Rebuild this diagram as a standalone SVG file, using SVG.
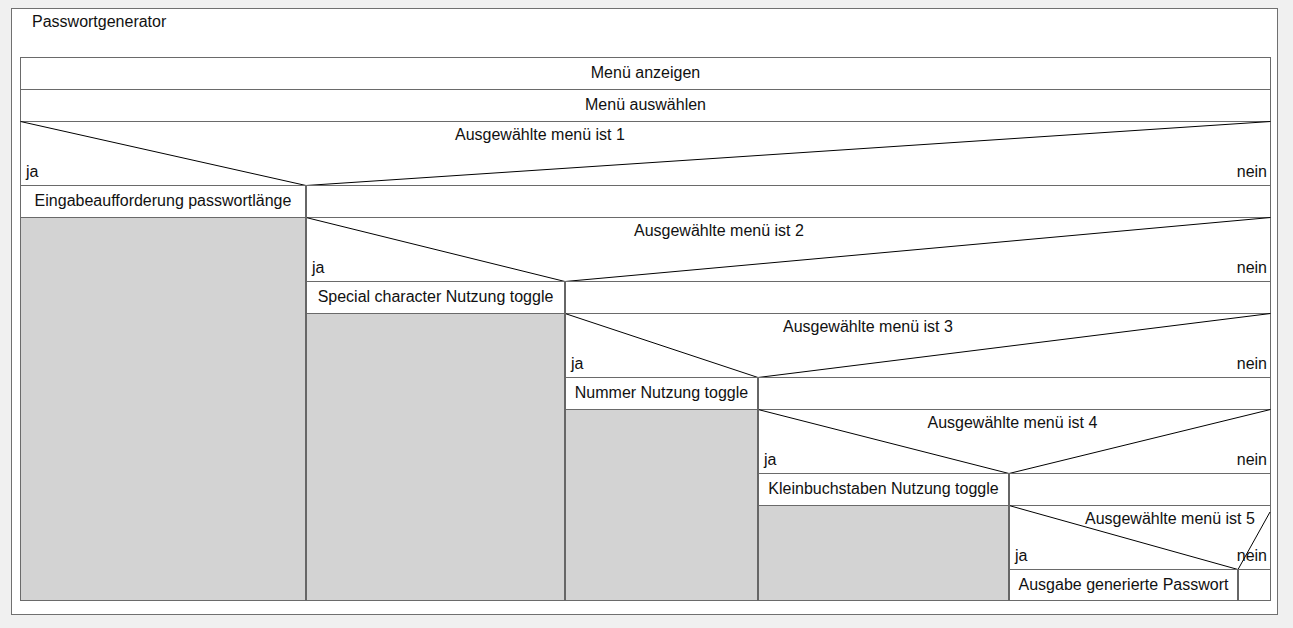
<svg xmlns="http://www.w3.org/2000/svg" width="1293" height="628" viewBox="0 0 1293 628">
  <style>
    .t { font-family: "Liberation Sans", Arial, sans-serif; font-size: 16px; fill: #111; }
    .m { text-anchor: middle; }
    .e { text-anchor: end; }
    .cell { fill: #ffffff; stroke: #6a6a6a; stroke-width: 1; }
    .gray { fill: #d3d3d3; stroke: #6a6a6a; stroke-width: 1; }
    .diag { stroke: #000; stroke-width: 1; fill: none; }
    .vline { stroke: #666; stroke-width: 2; }
  </style>
  <rect x="0" y="0" width="1293" height="628" fill="#f0f0f0"/>
  <rect x="11.5" y="8.5" width="1266" height="606" fill="#ffffff" stroke="#707070"/>
  <text class="t" x="32" y="26.5">Passwortgenerator</text>

  <g id="n-menu-anzeigen">
    <rect class="cell" x="20.5" y="57.5" width="1250" height="32"/>
    <text class="t m" x="645.5" y="78">Menü anzeigen</text>
  </g>
  <g id="n-menu-auswaehlen">
    <rect class="cell" x="20.5" y="89.5" width="1250" height="32"/>
    <text class="t m" x="645.5" y="110">Menü auswählen</text>
  </g>

  <g id="n-cond1">
    <rect class="cell" x="20.5" y="121.5" width="1250" height="64"/>
    <polyline class="diag" points="20.5,121.5 306,185.5 1270.5,121.5"/>
    <text class="t" x="455" y="140">Ausgewählte menü ist 1</text>
    <text class="t" x="26" y="176.5">ja</text>
    <text class="t e" x="1267" y="176.5">nein</text>
  </g>
  <g id="n-eingabe">
    <rect class="cell" x="20.5" y="185.5" width="285.5" height="32"/>
    <text class="t m" x="163" y="206">Eingabeaufforderung passwortlänge</text>
  </g>
  <g id="n-empty1">
    <rect class="cell" x="306" y="185.5" width="964.5" height="32"/>
  </g>
  <g id="n-gray1">
    <rect class="gray" x="20.5" y="217.5" width="285.5" height="383"/>
  </g>

  <g id="n-cond2">
    <rect class="cell" x="306" y="217.5" width="964.5" height="64"/>
    <polyline class="diag" points="306,217.5 565,281.5 1270.5,217.5"/>
    <text class="t" x="634" y="236">Ausgewählte menü ist 2</text>
    <text class="t" x="312" y="272.5">ja</text>
    <text class="t e" x="1267" y="272.5">nein</text>
  </g>
  <g id="n-special">
    <rect class="cell" x="306" y="281.5" width="259" height="32"/>
    <text class="t m" x="435.5" y="302">Special character Nutzung toggle</text>
  </g>
  <g id="n-empty2">
    <rect class="cell" x="565" y="281.5" width="705.5" height="32"/>
  </g>
  <g id="n-gray2">
    <rect class="gray" x="306" y="313.5" width="259" height="287"/>
  </g>

  <g id="n-cond3">
    <rect class="cell" x="565" y="313.5" width="705.5" height="64"/>
    <polyline class="diag" points="565,313.5 758,377.5 1270.5,313.5"/>
    <text class="t" x="783" y="332">Ausgewählte menü ist 3</text>
    <text class="t" x="571" y="368.5">ja</text>
    <text class="t e" x="1267" y="368.5">nein</text>
  </g>
  <g id="n-nummer">
    <rect class="cell" x="565" y="377.5" width="193" height="32"/>
    <text class="t m" x="661.5" y="398">Nummer Nutzung toggle</text>
  </g>
  <g id="n-empty3">
    <rect class="cell" x="758" y="377.5" width="512.5" height="32"/>
  </g>
  <g id="n-gray3">
    <rect class="gray" x="565" y="409.5" width="193" height="191"/>
  </g>

  <g id="n-cond4">
    <rect class="cell" x="758" y="409.5" width="512.5" height="64"/>
    <polyline class="diag" points="758,409.5 1009,473.5 1270.5,409.5"/>
    <text class="t" x="927.5" y="428">Ausgewählte menü ist 4</text>
    <text class="t" x="764" y="464.5">ja</text>
    <text class="t e" x="1267" y="464.5">nein</text>
  </g>
  <g id="n-klein">
    <rect class="cell" x="758" y="473.5" width="251" height="32"/>
    <text class="t m" x="883.5" y="494">Kleinbuchstaben Nutzung toggle</text>
  </g>
  <g id="n-empty4">
    <rect class="cell" x="1009" y="473.5" width="261.5" height="32"/>
  </g>
  <g id="n-gray4">
    <rect class="gray" x="758" y="505.5" width="251" height="95"/>
  </g>

  <g id="n-cond5">
    <rect class="cell" x="1009" y="505.5" width="261.5" height="64"/>
    <polyline class="diag" points="1009,505.5 1238,569.5 1270,512"/>
    <text class="t" x="1085" y="524">Ausgewählte menü ist 5</text>
    <text class="t" x="1015" y="560.5">ja</text>
    <text class="t e" x="1267" y="560.5">nein</text>
  </g>
  <g id="n-ausgabe">
    <rect class="cell" x="1009" y="569.5" width="229" height="31"/>
    <text class="t m" x="1123.5" y="590">Ausgabe generierte Passwort</text>
  </g>
  <g id="n-empty5">
    <rect class="cell" x="1238" y="569.5" width="32.5" height="31"/>
  </g>

  <g id="connectors">
    <line class="vline" x1="306" y1="185.5" x2="306" y2="601"/>
    <line class="vline" x1="565" y1="281.5" x2="565" y2="601"/>
    <line class="vline" x1="758" y1="377.5" x2="758" y2="601"/>
    <line class="vline" x1="1009" y1="473.5" x2="1009" y2="601"/>
    <line class="vline" x1="1238" y1="569.5" x2="1238" y2="601"/>
  </g>
</svg>
